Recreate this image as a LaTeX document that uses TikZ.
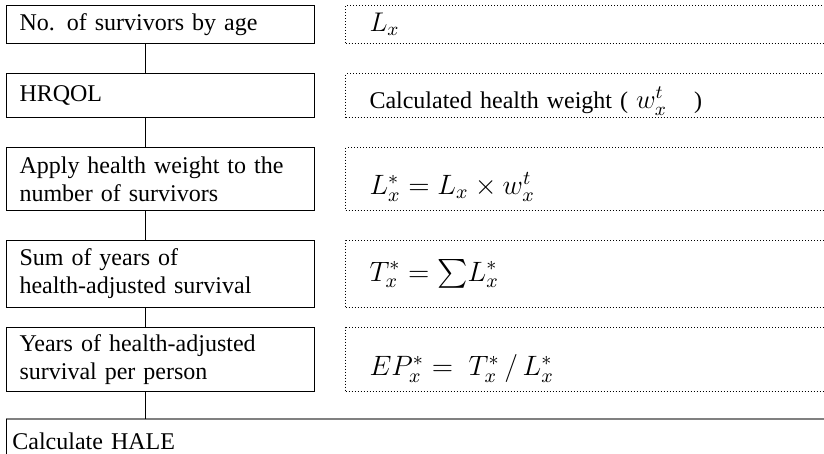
\RequirePackage{fix-cm}
\documentclass[tikz,border=0pt]{standalone}
\usepackage{amsmath}
\usepackage{fontspec}
\setmainfont{Liberation Serif}[WordSpace=1.6]
\usetikzlibrary{positioning}
\newcommand\halefont{\fontsize{12}{14}\selectfont}
\newcommand\halemath{\fontsize{14}{16}\selectfont}
\newcommand\halesmath{\fontsize{13.5}{15}\selectfont}

\begin{document}
\begin{tikzpicture}[
  x=0.5pt, y=-0.5pt,
  stepbox/.style={draw, line width=0.5pt, text width=141pt, inner xsep=6.5pt,
    inner ysep=2pt, align=left, font=\halefont},
  formbox/.style={draw, densely dotted, line width=0.5pt, text width=219pt,
    inner xsep=12pt, inner ysep=2pt, align=left, font=\halefont},
  bigmath/.style={font=\halemath},
  halebox/.style={text width=420pt, inner xsep=3pt, inner ysep=6pt,
    text height=9pt, text depth=20pt, align=left, font=\halefont},
  link/.style={draw, line width=0.5pt}
]
\clip (0,0) rectangle (824,454);

\node[stepbox, minimum height=19pt, anchor=north west] (surv) at (6,5) {No. of survivors by age};
\node[stepbox, minimum height=22pt, below=14.5pt of surv] (hrqol) {HRQOL};
\node[stepbox, minimum height=31.5pt, below=14.5pt of hrqol] (apply)
  {Apply health weight to the\\number of survivors};
\node[stepbox, minimum height=33.5pt, below=14.5pt of apply] (sumyrs)
  {Sum of years of\\health-adjusted survival};
\node[stepbox, minimum height=32pt, below=9.5pt of sumyrs] (perperson)
  {Years of health-adjusted\\survival per person};
\node[halebox, below=13.5pt of perperson.south west, anchor=north west] (hale) {Calculate HALE};

\node[formbox, minimum height=19pt, right=15pt of surv] (lx) {{\halesmath$L_x$}};
\node[formbox, minimum height=22pt, text height=14pt, text depth=1pt, right=15pt of hrqol] (wx)
  {Calculated health weight ( {\halesmath$w^t_x$} \hspace{0.8em})};
\node[formbox, bigmath, minimum height=31.5pt, text height=16pt, text depth=0.5pt, right=15pt of apply] (lstar)
  {$L_x^* = L_x \times w_x^t$};
\node[formbox, bigmath, minimum height=33.5pt, right=15pt of sumyrs] (tstar)
  {$T_x^* = \sum\!L_x^*$};
\node[formbox, bigmath, minimum height=32pt, text height=16.5pt, text depth=0.5pt, right=15pt of perperson] (epstar)
  {$EP_x^* =\; T_x^*\,/\,L_x^*$};

\draw[gray, line width=1pt] (hale.north west) -- (hale.north east);
\draw[link] (hale.north west) -- (hale.south west);

\foreach \a/\b in {surv/hrqol, hrqol/apply, apply/sumyrs, sumyrs/perperson, perperson/hale}
  \draw[link] ([xshift=69.5pt]\a.south west) -- ([xshift=69.5pt]\b.north west);
\end{tikzpicture}
\end{document}
